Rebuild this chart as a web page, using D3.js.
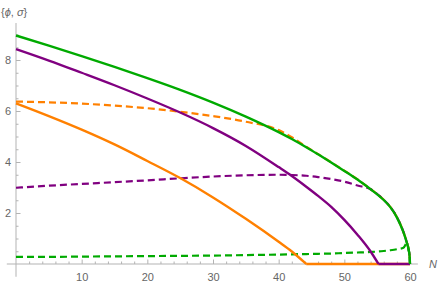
<!DOCTYPE html>
<html>
<head>
<meta charset="utf-8">
<script src="https://cdn.jsdelivr.net/npm/d3@7"></script>
<style>
  body { margin: 0; background: #fff; }
  svg { display: block; font-family: "Liberation Sans", Arial, sans-serif; }
</style>
</head>
<body>
<div id="chart"></div>
<script>
// N grid shared by every curve
const nGrid = [0, 5, 10, 15, 20, 25, 30, 35, 40, 42, 44.2, 46, 48, 50, 52, 54, 55.2, 56, 57, 58, 59, 59.5, 59.8, 59.95, 60];

// solid curves
const greenSolid  = [8.96, 8.56, 8.15, 7.73, 7.29, 6.83, 6.33, 5.78, 5.17, 4.90, 4.58, 4.30, 3.98, 3.65, 3.31, 2.93, 2.69, 2.51, 2.23, 1.83, 1.25, 0.85, 0.55, 0.27, 0];
const purpleSolid = [8.43, 7.98, 7.50, 7.01, 6.49, 5.94, 5.33, 4.63, 3.80, 3.45, 3.03, 2.67, 2.24, 1.73, 1.15, 0.49, 0, 0, 0, 0, 0, 0, 0, 0, 0];
const orangeSolid = [6.30, 5.80, 5.27, 4.69, 4.04, 3.37, 2.61, 1.77, 0.87, 0.49, 0, 0, 0, 0, 0, 0, 0, 0, 0, 0, 0, 0, 0, 0, 0];

// dashed curves (they run into the green one near the end)
const orangeDashed = [6.37, 6.34, 6.29, 6.21, 6.11, 5.97, 5.80, 5.58, 5.25, 4.97, 4.60, 4.31, 3.99, 3.66, 3.32, 2.94, 2.70, 2.52, 2.24, 1.84, 1.26, 0.86, 0.56, 0.27, 0];
const purpleDashed = [2.99, 3.07, 3.14, 3.21, 3.28, 3.36, 3.43, 3.48, 3.50, 3.49, 3.46, 3.41, 3.33, 3.23, 3.08, 2.93, 2.70, 2.52, 2.24, 1.84, 1.26, 0.86, 0.56, 0.27, 0];
const greenDashed  = [0.28, 0.28, 0.29, 0.30, 0.31, 0.32, 0.33, 0.35, 0.37, 0.38, 0.39, 0.40, 0.41, 0.43, 0.45, 0.47, 0.49, 0.51, 0.54, 0.58, 0.64, 0.80, 0.55, 0.27, 0];

const xMajor = [10, 20, 30, 40, 50, 60];
const xMinor = [2, 4, 6, 8, 12, 14, 16, 18, 22, 24, 26, 28, 32, 34, 36, 38, 42, 44, 46, 48, 52, 54, 56, 58];
const yMajor = [2, 4, 6, 8];
const yMinor = [0.5, 1, 1.5, 2.5, 3, 3.5, 4.5, 5, 5.5, 6.5, 7, 7.5, 8.5, 9];

const width = 440, height = 286;
const orange = "#ff8000", purple = "#800080", green = "#00aa00";
const axisColor = "#b3b3b3", labelColor = "#666";

const x = d3.scaleLinear().domain([0, 60]).range([16, 410]);
const y = d3.scaleLinear().domain([0, 9]).range([264, 34.5]);

const svg = d3.select("#chart")
    .append("svg")
    .attr("width", width)
    .attr("height", height);

// axes lines (Mathematica style, slightly past the origin)
svg.append("line")
    .attr("x1", x(-1.4)).attr("x2", x(61.2))
    .attr("y1", y(0)).attr("y2", y(0))
    .attr("stroke", axisColor).attr("stroke-width", 1);
svg.append("line")
    .attr("x1", x(0)).attr("x2", x(0))
    .attr("y1", y(-0.5)).attr("y2", y(9.45))
    .attr("stroke", axisColor).attr("stroke-width", 1);

function styleAxis(g) {
    g.select(".domain").remove();
    g.selectAll(".tick line").attr("stroke", axisColor);
    g.selectAll(".tick text")
        .attr("fill", labelColor)
        .style("font-size", "11px");
}

svg.append("g")
    .attr("transform", `translate(0, ${y(0)})`)
    .call(d3.axisBottom(x).tickValues(xMajor).tickSize(-4.5).tickPadding(9))
    .call(styleAxis);
svg.append("g")
    .attr("transform", `translate(0, ${y(0)})`)
    .call(d3.axisBottom(x).tickValues(xMinor).tickSize(-2.5).tickFormat(""))
    .call(styleAxis);

svg.append("g")
    .attr("transform", `translate(${x(0)}, 0)`)
    .call(d3.axisLeft(y).tickValues(yMajor).tickSize(-4.5).tickPadding(5))
    .call(styleAxis);
svg.append("g")
    .attr("transform", `translate(${x(0)}, 0)`)
    .call(d3.axisLeft(y).tickValues(yMinor).tickSize(-2.5).tickFormat(""))
    .call(styleAxis);

// axis labels
const yLab = svg.append("text")
    .attr("x", 1).attr("y", 16)
    .attr("fill", labelColor)
    .style("font-size", "11px");
yLab.append("tspan").text("{");
yLab.append("tspan").attr("font-style", "italic").text("ϕ");
yLab.append("tspan").text(", ");
yLab.append("tspan").attr("font-style", "italic").text("σ");
yLab.append("tspan").text("}");

svg.append("text")
    .attr("x", 429).attr("y", y(0) + 4)
    .attr("fill", labelColor)
    .attr("font-style", "italic")
    .style("font-size", "11px")
    .text("N");

const line = d3.line()
    .x(d => x(d[0]))
    .y(d => y(d[1]))
    .curve(d3.curveMonotoneX);

function drawSeries(values, color, dashed) {
    const pts = nGrid.map((n, i) => [n, values[i]]);
    // split where the curve first hits zero so the corner stays sharp
    const k = pts.findIndex(p => p[1] === 0);
    const parts = (k > 0 && k < pts.length - 1) ? [pts.slice(0, k + 1), pts.slice(k)] : [pts];
    parts.forEach(p => {
        svg.append("path")
            .datum(p)
            .attr("d", line)
            .attr("fill", "none")
            .attr("stroke", color)
            .attr("stroke-width", dashed ? 2.2 : 2.4)
            .attr("stroke-dasharray", dashed ? "7,4" : null)
            .attr("stroke-linejoin", "round");
    });
}

drawSeries(orangeDashed, orange, true);
drawSeries(purpleDashed, purple, true);
drawSeries(greenDashed, green, true);
drawSeries(orangeSolid, orange, false);
drawSeries(purpleSolid, purple, false);
drawSeries(greenSolid, green, false);
</script>
</body>
</html>
